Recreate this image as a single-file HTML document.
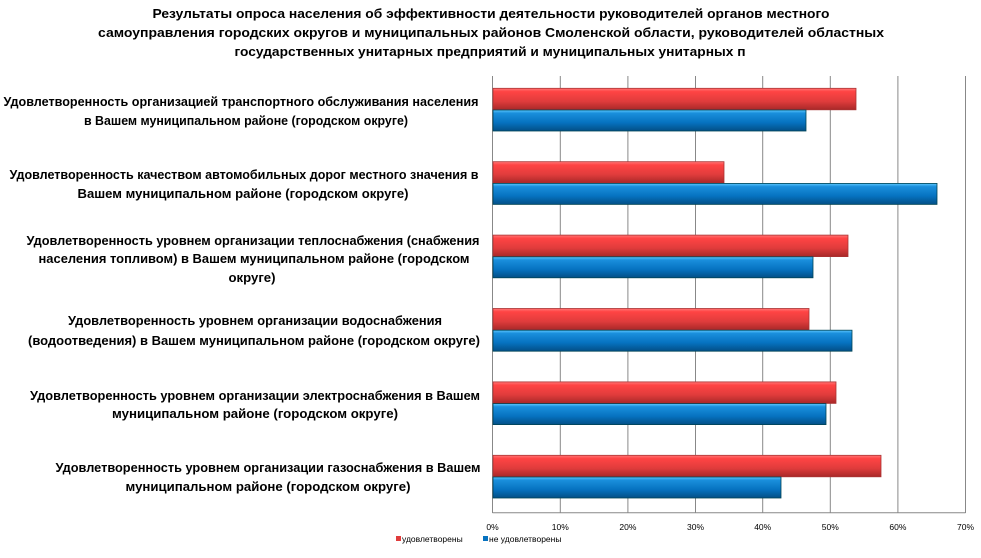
<!DOCTYPE html>
<html><head><meta charset="utf-8"><style>
html,body{margin:0;padding:0;background:#fff;}
svg{display:block;}
text{font-family:"Liberation Sans","DejaVu Sans",sans-serif;}
</style></head><body>
<svg width="981" height="558" viewBox="0 0 981 558" xmlns="http://www.w3.org/2000/svg">
<defs>
<linearGradient id="r" x1="0" y1="0" x2="0" y2="1">
<stop offset="0" stop-color="#f77"/><stop offset="0.15" stop-color="#f44"/><stop offset="0.6" stop-color="#e03c3c"/><stop offset="1" stop-color="#a82828"/>
</linearGradient>
<linearGradient id="b" x1="0" y1="0" x2="0" y2="1">
<stop offset="0" stop-color="#5cc8ff"/><stop offset="0.15" stop-color="#1a8fdc"/><stop offset="0.6" stop-color="#0672c0"/><stop offset="1" stop-color="#034f86"/>
</linearGradient>
</defs>
<g font-weight="bold" font-size="13" fill="#000" text-anchor="middle">
<text x="491" y="18" textLength="677" lengthAdjust="spacingAndGlyphs">Результаты опроса населения об эффективности деятельности руководителей органов местного</text>
<text x="491" y="37" textLength="786" lengthAdjust="spacingAndGlyphs">самоуправления городских округов и муниципальных районов Смоленской области, руководителей областных</text>
<text x="490" y="56" textLength="511" lengthAdjust="spacingAndGlyphs">государственных унитарных предприятий и муниципальных унитарных п</text>
</g>
<g font-weight="bold" font-size="13" fill="#000" text-anchor="middle">
<text x="241" y="106" textLength="475" lengthAdjust="spacingAndGlyphs">Удовлетворенность организацией транспортного обслуживания населения</text>
<text x="246" y="125" textLength="324" lengthAdjust="spacingAndGlyphs">в Вашем муниципальном районе (городском округе)</text>
<text x="244" y="179" textLength="469" lengthAdjust="spacingAndGlyphs">Удовлетворенность качеством автомобильных дорог местного значения в</text>
<text x="243" y="198" textLength="331" lengthAdjust="spacingAndGlyphs">Вашем муниципальном районе (городском округе)</text>
<text x="253" y="245" textLength="453" lengthAdjust="spacingAndGlyphs">Удовлетворенность уровнем организации теплоснабжения (снабжения</text>
<text x="254" y="263" textLength="431" lengthAdjust="spacingAndGlyphs">населения топливом) в Вашем муниципальном районе (городском</text>
<text x="252" y="282" textLength="47" lengthAdjust="spacingAndGlyphs">округе)</text>
<text x="255" y="325" textLength="374" lengthAdjust="spacingAndGlyphs">Удовлетворенность уровнем организации водоснабжения</text>
<text x="254" y="345" textLength="452" lengthAdjust="spacingAndGlyphs">(водоотведения) в Вашем муниципальном районе (городском округе)</text>
<text x="255" y="400" textLength="450" lengthAdjust="spacingAndGlyphs">Удовлетворенность уровнем организации электроснабжения в Вашем</text>
<text x="255" y="418" textLength="286" lengthAdjust="spacingAndGlyphs">муниципальном районе (городском округе)</text>
<text x="268" y="472" textLength="425" lengthAdjust="spacingAndGlyphs">Удовлетворенность уровнем организации газоснабжения в Вашем</text>
<text x="268" y="491" textLength="285" lengthAdjust="spacingAndGlyphs">муниципальном районе (городском округе)</text>
</g>
<g stroke="#888" stroke-width="1">
<line x1="560.3" y1="76" x2="560.3" y2="513"/>
<line x1="627.9" y1="76" x2="627.9" y2="513"/>
<line x1="695.5" y1="76" x2="695.5" y2="513"/>
<line x1="762.7" y1="76" x2="762.7" y2="513"/>
<line x1="830.3" y1="76" x2="830.3" y2="513"/>
<line x1="897.9" y1="76" x2="897.9" y2="513"/>
<line x1="965.5" y1="76" x2="965.5" y2="513"/>
<line x1="492.5" y1="76" x2="492.5" y2="513"/>
<line x1="492.5" y1="512.7" x2="965.5" y2="512.7"/>
</g>
<g stroke-width="0.8">
<rect x="493" y="88.3" width="363" height="21.5" fill="url(#r)" stroke="#a33"/>
<rect x="493" y="110" width="313" height="21" fill="url(#b)" stroke="#045"/>
<rect x="493" y="161.7" width="231" height="21.5" fill="url(#r)" stroke="#a33"/>
<rect x="493" y="183.4" width="444" height="21" fill="url(#b)" stroke="#045"/>
<rect x="493" y="235.1" width="355" height="21.5" fill="url(#r)" stroke="#a33"/>
<rect x="493" y="256.8" width="320" height="21" fill="url(#b)" stroke="#045"/>
<rect x="493" y="308.5" width="316" height="21.5" fill="url(#r)" stroke="#a33"/>
<rect x="493" y="330.2" width="359" height="21" fill="url(#b)" stroke="#045"/>
<rect x="493" y="381.9" width="343" height="21.5" fill="url(#r)" stroke="#a33"/>
<rect x="493" y="403.6" width="333" height="21" fill="url(#b)" stroke="#045"/>
<rect x="493" y="455.3" width="388" height="21.5" fill="url(#r)" stroke="#a33"/>
<rect x="493" y="477" width="288" height="21" fill="url(#b)" stroke="#045"/>
</g>
<g font-size="8.5" fill="#000" text-anchor="middle">
<text x="492.5" y="530">0%</text>
<text x="560.3" y="530">10%</text>
<text x="627.9" y="530">20%</text>
<text x="695.5" y="530">30%</text>
<text x="762.7" y="530">40%</text>
<text x="830.3" y="530">50%</text>
<text x="897.9" y="530">60%</text>
<text x="965.5" y="530">70%</text>
</g>
<rect x="396" y="536" width="5" height="5" fill="#e03c3c"/>
<text x="402" y="542" font-size="8.5">удовлетворены</text>
<rect x="483" y="536" width="5" height="5" fill="#0672c0"/>
<text x="489" y="542" font-size="8.5">не удовлетворены</text>
</svg>
</body></html>
